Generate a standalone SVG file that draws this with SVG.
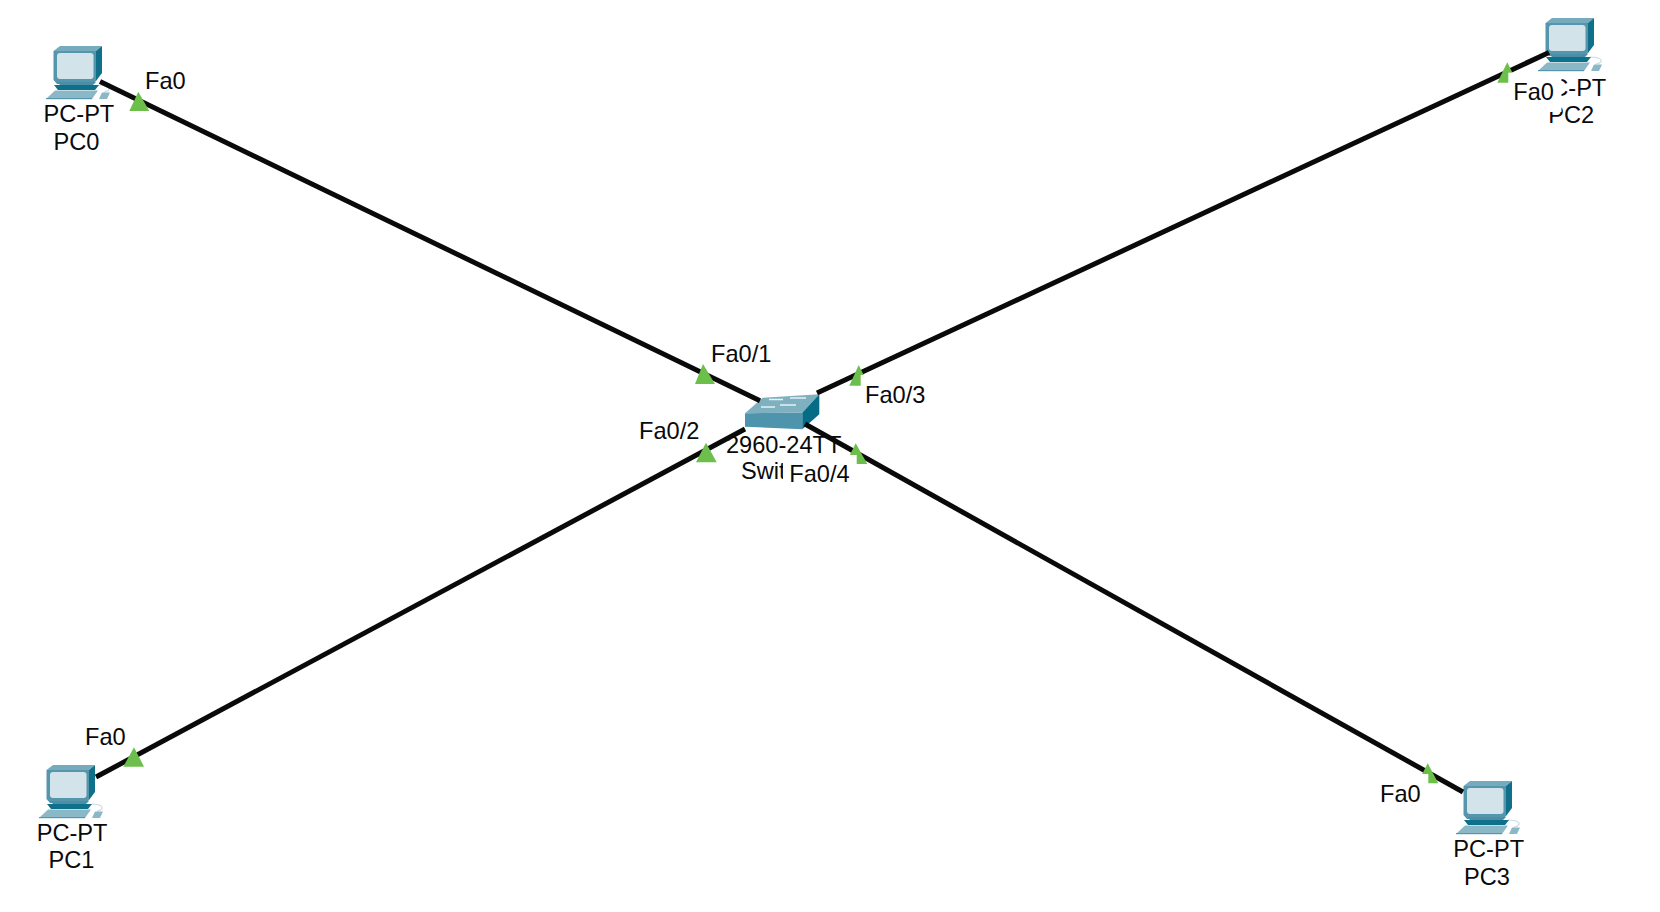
<svg xmlns="http://www.w3.org/2000/svg" width="1660" height="912" viewBox="0 0 1660 912">
<style>
text{font-family:"Liberation Sans",Arial,sans-serif;font-size:23.6px;font-kerning:none;fill:#0a0a0a}
.link{stroke:#0a0a0a;stroke-width:5;fill:none}
.port{fill:#6cbf4b}
.mask{fill:#fff}
</style>
<defs>
<g id="pc">
<path d="M58 47q6-1 5-4q-2-3-11-3" fill="none" stroke="#c8dde4" stroke-width="1.2"/>
<polygon points="7.5,6 14,1 56,1 50,6" fill="#76abbd"/>
<path d="M7.5 6H50V36L47 39H11L7.5 35Z" fill="#5596ad"/>
<polygon points="50,6 56,1 56,28 50,36" fill="#10708a"/>
<rect x="11" y="8" width="36.5" height="26" rx="3" fill="#d3e3ea"/>
<polygon points="11,37 50,37 47,40 14,40" fill="#4a8fa7"/>
<polygon points="8,40 53,40 49,45 12,45" fill="#0f7089"/>
<polygon points="0,54 9,45.5 52,45.5 46,54" fill="#8bb8c6"/>
<rect x="0" y="53" width="46" height="1.2" fill="#5596ad"/>
<polygon points="53,54 56,47.5 64,47.5 61,54" fill="#8bb8c6"/>
</g>
</defs>
<g id="PC0"><use href="#pc" x="46" y="45"/><text x="43.5" y="122">PC-PT</text><text x="53.5" y="150">PC0</text></g>
<g id="PC1"><use href="#pc" x="39" y="764"/><text x="36.7" y="840.5">PC-PT</text><text x="48.5" y="867.7">PC1</text></g>
<g id="PC2"><use href="#pc" x="1538" y="17"/><text x="1535.5" y="96">PC-PT</text><text x="1548.3" y="122.7">PC2</text></g>
<g id="PC3"><use href="#pc" x="1456" y="780"/><text x="1453.3" y="857.3">PC-PT</text><text x="1464" y="885">PC3</text></g>
<g id="Switch">
<polygon points="745,413.3 802.3,412.7 802.3,429.3 745,426.7" fill="#4f94ad"/>
<polygon points="745,413.3 762.7,397.7 819.3,394.3 802.3,412.7" fill="#7fb0c0"/>
<polygon points="802.3,412.7 819.3,394.3 819.3,414.3 802.3,429.3" fill="#056c86"/>
<path d="M769 399.500h14M790 398h16M761 407h14M780 405h16" stroke="#e6f1f4" stroke-width="1.6" fill="none"/>
<text x="726" y="453.3">2960-24TT</text><text x="741" y="479.3">Swit</text>
</g>
<g id="connectors">
<line class="link" x1="100" y1="81.5" x2="760" y2="400.7"/>
<line class="link" x1="96" y1="777" x2="745" y2="429"/>
<line class="link" x1="1549" y1="52.5" x2="817" y2="393"/>
<line class="link" x1="1463" y1="792" x2="805" y2="424"/>
</g>
<g id="ports">
<polygon class="port" points="138.3,91.7 129.3,111 149.3,111"/>
<polygon class="port" points="703,364 695,384 715,384"/>
<polygon class="port" points="858.7,365 849.3,385.7 869,385.7"/>
<polygon class="port" points="706,442.7 696,462.3 716.7,462.3"/>
<polygon class="port" points="855.7,443.3 845.5,464 867.3,464"/>
<polygon class="port" points="1507.3,62.3 1497.3,82.7 1517.3,82.7"/>
<polygon class="port" points="1427.7,763.3 1417.5,783.3 1438.3,783.3"/>
<polygon class="port" points="134,747.3 123.3,766.7 144,766.7"/>
<rect class="mask" x="860.7" y="375" width="64" height="34"/>
<rect class="mask" x="783" y="455" width="73.7" height="33"/>
<rect class="mask" x="1508.3" y="72.7" width="53.2" height="39.3"/>
<rect class="mask" x="1376" y="774" width="52.3" height="34"/>
<text x="145" y="89">Fa0</text>
<text x="711" y="361.7">Fa0/1</text>
<text x="639" y="439.3">Fa0/2</text>
<text x="865" y="403.2">Fa0/3</text>
<text x="789.3" y="481.7">Fa0/4</text>
<text x="85" y="745">Fa0</text>
<text x="1513.3" y="100">Fa0</text>
<text x="1380" y="801.7">Fa0</text>
</g>
</svg>
